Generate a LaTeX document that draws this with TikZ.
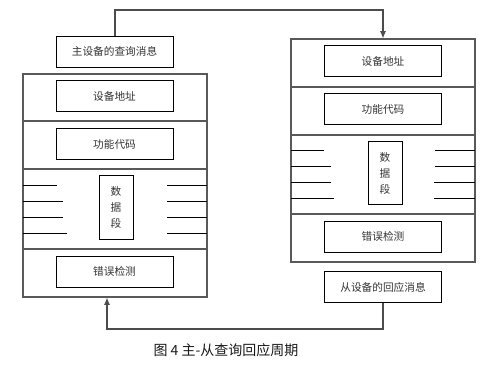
\documentclass[tikz,border=0pt]{standalone}
\usepackage{fontspec}
\setmainfont{Noto Sans CJK SC}
\usetikzlibrary{arrows.meta,calc}
\begin{document}
\begin{tikzpicture}[x=0.75pt,y=-0.75pt,
  frame/.style={draw=black!65,line width=0.8pt,minimum width=138pt,minimum height=167.25pt,inner sep=0pt},
  fbox/.style={draw=black,line width=0.7pt,minimum width=87.75pt,minimum height=23.25pt,inner sep=0pt,font=\fontsize{8pt}{9pt}\selectfont,text=black!80},
  dbox/.style={draw=black,line width=0.7pt,minimum width=25.5pt,minimum height=47.5pt,inner sep=0pt,font=\fontsize{8pt}{12pt}\selectfont,text=black!80,align=center},
  sep/.style={draw=black!65,line width=0.8pt},
  hl/.style={draw=black,line width=0.7pt},
  conn/.style={draw=black!70,line width=0.8pt},
  tip/.style={-{Latex[length=5.5pt,width=4.5pt]}}]
\useasboundingbox (0,0) rectangle (503,365);
% left frame
\node[frame] (lf) at (115,185.5) {};
\draw[sep] (23,121) -- (207,121);
\draw[sep] (23,169) -- (207,169);
\draw[sep] (23,249) -- (207,249);
\node[fbox] (lt) at (114.5,51.5) {主设备的查询消息};
\node[fbox] (la) at (114.5,96) {设备地址};
\node[fbox] (lc) at (114.5,144) {功能代码};
\node[dbox] (ld) at (116,207.5) {数\\据\\段};
\node[fbox] (le) at (114.5,271.5) {错误检测};
\draw[hl] (23,185) -- (57,185); \draw[hl] (23,201) -- (63,201);
\draw[hl] (23,217) -- (63,217); \draw[hl] (23,233) -- (67,233);
\draw[hl] (167,185) -- (207,185); \draw[hl] (167,201) -- (207,201);
\draw[hl] (167,217) -- (207,217); \draw[hl] (167,233) -- (207,233);
% right frame
\node[frame] (rf) at (383,150.5) {};
\draw[sep] (291,87) -- (475,87);
\draw[sep] (291,135) -- (475,135);
\draw[sep] (291,214) -- (475,214);
\node[fbox] (ra) at (383,61) {设备地址};
\node[fbox] (rc) at (383,109) {功能代码};
\node[dbox] (rd) at (385,173) {数\\据\\段};
\node[fbox] (re) at (383,236.5) {错误检测};
\node[fbox] (rt) at (383,287) {从设备的回应消息};
\draw[hl] (291,150) -- (324,150); \draw[hl] (291,166) -- (331,166);
\draw[hl] (291,182) -- (331,182); \draw[hl] (291,198) -- (334,198);
\draw[hl] (435,150) -- (475,150); \draw[hl] (435,166) -- (475,166);
\draw[hl] (434,182) -- (475,182); \draw[hl] (434,198) -- (475,198);
% connectors
\coordinate (tl) at (115,10);
\coordinate (tr) at (383,10);
\draw[conn,tip] (lt.north -| tl) -- (tl) -- (tr) -- (rf.north);
\coordinate (br) at (383,329);
\coordinate (bl) at (107,329);
\draw[conn,tip] (rt.south) -- (br) -- (bl) -- (bl |- lf.south);
% caption
\node[font=\fontsize{10.5pt}{12pt}\selectfont,text=black!90] (cap) at (226,350) {图 4 主-从查询回应周期};
\end{tikzpicture}
\end{document}
